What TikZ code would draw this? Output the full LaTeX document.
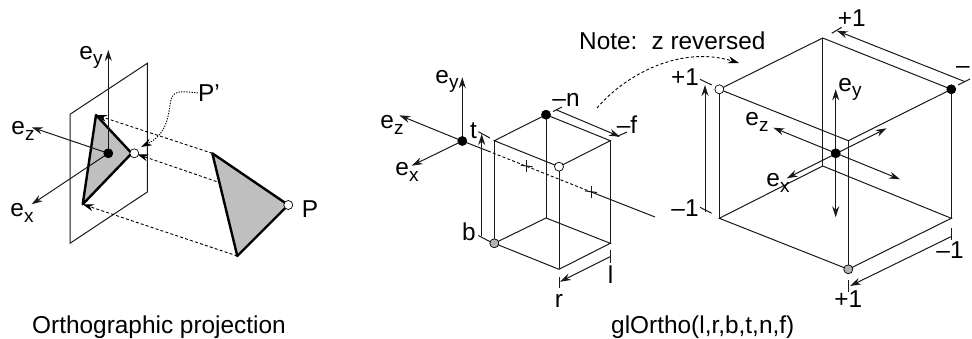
\documentclass[tikz,border=0pt]{standalone}
\usepackage{fontspec}
\setmainfont{Liberation Sans}
\usepackage{tikz}
\usetikzlibrary{arrows.meta, calc}
\newcommand{\axisname}[1]{e\raisebox{-0.4ex}{\fontsize{19}{19}\selectfont #1}}
\tikzset{
  thinline/.style={line width=1pt, color=black!90},
  axisarrow/.style={thinline, -{Stealth[length=11pt, width=7pt]}},
  botharrow/.style={thinline, {Stealth[length=11pt, width=7pt]}-{Stealth[length=11pt, width=7pt]}},
  crossline/.style={line width=0.9pt, dash pattern=on 3pt off 2.2pt},
  projline/.style={crossline, -{Stealth[length=11pt, width=7pt]}},
  noteline/.style={line width=0.9pt, dash pattern=on 1.3pt off 1.3pt, -{Stealth[length=11pt, width=7pt]}},
  facefill/.style={fill=black!25, draw=black, line width=2.4pt, line join=round},
  blackdot/.style={circle, draw=black, fill=black, line width=0.7pt, inner sep=0pt, minimum size=9pt},
  whitedot/.style={blackdot, fill=white},
  greydot/.style={blackdot, fill=black!30},
  labeltext/.style={font=\fontsize{24.4}{24.4}\selectfont, inner sep=0pt},
}
\begin{document}
\begin{tikzpicture}[x=1pt, y=-1pt]
  \useasboundingbox (0,0) rectangle (972,339);

  % Projection plane
  \coordinate (plane1) at (70,114.3);
  \coordinate (plane2) at (147.3,63.3);
  \coordinate (plane3) at (147.3,192);
  \coordinate (plane4) at (70,243.3);
  \draw[thinline] (plane1) -- (plane2) -- (plane3) -- (plane4) -- cycle;

  % Triangles
  \coordinate (small1) at (96,115);
  \coordinate (small2) at (131.7,153.3);
  \coordinate (small3) at (82.7,204.3);
  \coordinate (large1) at (212.3,153.3);
  \coordinate (large2) at (288.3,205);
  \coordinate (large3) at (237.3,256);
  \coordinate (hidden) at (216.5,181.5);
  \coordinate (pprime) at (134.3,153.3);
  \draw[facefill] (small1) -- (small2) -- (small3) -- cycle;
  \draw[facefill] (large1) -- (large2) -- (large3) -- cycle;

  % Projection lines
  \draw[projline] (large1) -- (small1);
  \draw[projline] (hidden) -- ($(pprime)+(3,1)$);
  \draw[projline] (large3) -- (small3);

  % Left axes
  \coordinate (orga) at (108.3,153.3);
  \coordinate (eya) at (108.3,50);
  \coordinate (eza) at (31.7,127.3);
  \coordinate (exa) at (31.7,204.3);
  \draw[axisarrow] (orga) -- (eya);
  \draw[axisarrow] (orga) -- (eza);
  \draw[axisarrow] (orga) -- (exa);
  \node[blackdot] (orgadot) at (orga) {};
  \node[whitedot] (pprimedot) at (pprime) {};
  \node[whitedot] (pdot) at (288.3,205) {};

  \node[labeltext] (eyalabel) at (91,57) {\axisname{y}};
  \node[labeltext] (ezalabel) at (23,131) {\axisname{z}};
  \node[labeltext] (exalabel) at (22,213) {\axisname{x}};
  \node[labeltext] (plabel) at (310,209) {P};
  \node[labeltext] (pplabel) at (209,93) {P'};
  \draw[noteline] (pplabel.west) .. controls (175,90) and (172,92) .. (170,105)
    .. controls (168,120) and (165,135) .. (141,147);

  % Frustum box
  \coordinate (ltop) at (494.3,140.7);
  \coordinate (btop) at (546,114.7);
  \coordinate (rtop) at (610.3,140.7);
  \coordinate (ftop) at (559,166.7);
  \coordinate (lbot) at (494.3,243.3);
  \coordinate (bbot) at (546,218);
  \coordinate (rbot) at (610.3,243.3);
  \coordinate (fbot) at (559,269.3);
  \draw[thinline] (ltop) -- (btop) -- (rtop) -- (ftop) -- cycle;
  \draw[thinline] (lbot) -- (bbot) -- (rbot) -- (fbot) -- cycle;
  \foreach \c in {l,b,r,f}
    \draw[thinline] (\c top) -- (\c bot);

  % Viewing axis through the box
  \coordinate (orgb) at (462.3,141);
  \coordinate (eyb) at (462.3,77.3);
  \coordinate (ezb) at (399.3,115.3);
  \coordinate (exb) at (411.7,165.7);
  \coordinate (axisin) at (488,151);
  \coordinate (axisout) at (590,191.5);
  \coordinate (axisend) at (655,217);
  \draw[axisarrow] (orgb) -- (eyb);
  \draw[axisarrow] (orgb) -- (ezb);
  \draw[axisarrow] (orgb) -- (exb);
  \draw[thinline] (orgb) -- (axisin);
  \draw[crossline] (axisin) -- (axisout);
  \draw[thinline] (axisout) -- (axisend);
  \foreach \px/\py in {526.7/166, 591/191.7} {
    \draw[thinline] (\px,\py) ++(0,-6) -- ++(0,12);
    \draw[thinline] (\px,\py) ++(-6,-0.8) -- ++(12,1.6);
  }
  \node[blackdot] (orgbdot) at (orgb) {};
  \node[blackdot] (btopdot) at (btop) {};
  \node[whitedot] (ftopdot) at (ftop) {};
  \node[greydot] (lbotdot) at (lbot) {};

  % Box dimensions
  \coordinate (dimb) at (481.7,236);
  \coordinate (dimt) at (481.7,134);
  \coordinate (dimn) at (556.7,110);
  \coordinate (dimf) at (620,136.7);
  \coordinate (diml) at (610,256.7);
  \coordinate (dimr) at (560,281.7);
  \draw[axisarrow] (dimb) -- (dimt);
  \draw[axisarrow] (dimn) -- (dimf);
  \draw[axisarrow] (diml) -- (dimr);
  \foreach \ax/\ay/\bx/\by in {478.3/131.7/490/138, 478.3/235.5/490/241.7,
      553/111.5/562/107, 617/136.5/627/132,
      610.3/250/610.3/263, 559/277/559/288}
    \draw[thinline] (\ax,\ay) -- (\bx,\by);

  \node[labeltext] (eyblabel) at (447,81) {\axisname{y}};
  \node[labeltext] (ezblabel) at (392,125) {\axisname{z}};
  \node[labeltext] (exblabel) at (407,172) {\axisname{x}};
  \node[labeltext] (tlabel) at (473.5,130.5) {t};
  \node[labeltext] (blabel) at (469,232) {b};
  \node[labeltext] (nlabel) at (566,100) {--n};
  \node[labeltext] (flabel) at (627,125) {--f};
  \node[labeltext] (llabel) at (610.7,275) {l};
  \node[labeltext] (rlabel) at (559,301) {r};

  % Note and its curve
  \node[labeltext, anchor=base west] (note) at (579,50) {Note:\hspace{5pt} z reversed};
  \coordinate (curvestart) at (597,108);
  \coordinate (curveend) at (739,63);
  \draw[crossline, -{Stealth[length=11pt, width=7pt]}] (curvestart)
    .. controls (625,75) and (680,45) .. (curveend);

  % Unit cube
  \coordinate (ctopl) at (719.3,89.3);
  \coordinate (ctopb) at (822.7,38);
  \coordinate (ctopr) at (951.3,89.3);
  \coordinate (ctopf) at (848.3,140.7);
  \coordinate (cbotl) at (719.3,218.3);
  \coordinate (cbotb) at (822.7,166);
  \coordinate (cbotr) at (951.3,218.3);
  \coordinate (cbotf) at (848.3,269.3);
  \draw[thinline] (ctopl) -- (ctopb) -- (ctopr) -- (ctopf) -- cycle;
  \draw[thinline] (cbotl) -- (cbotb) -- (cbotr) -- (cbotf) -- cycle;
  \foreach \c in {l,b,r,f}
    \draw[thinline] (ctop\c) -- (cbot\c);

  % Cube axes
  \coordinate (orgc) at (835.7,153.3);
  \coordinate (eyc) at (835.7,89.3);
  \coordinate (myc) at (835.7,217.3);
  \coordinate (ezc) at (773.3,127.7);
  \coordinate (mzc) at (900,179.3);
  \coordinate (exc) at (786.7,178.3);
  \coordinate (mxc) at (886.7,128.3);
  \draw[botharrow] (myc) -- (eyc);
  \draw[botharrow] (mzc) -- (ezc);
  \draw[botharrow] (mxc) -- (exc);
  \node[blackdot] (orgcdot) at (orgc) {};
  \node[whitedot] (ctopldot) at (ctopl) {};
  \node[blackdot] (ctoprdot) at (ctopr) {};
  \node[greydot] (cbotfdot) at (cbotf) {};

  % Cube dimensions
  \coordinate (dimcb) at (705,211.7);
  \coordinate (dimct) at (705,85);
  \coordinate (dimcr) at (965,81.7);
  \coordinate (dimcn) at (836.7,30.7);
  \coordinate (dimcl) at (951,236.7);
  \coordinate (dimcf) at (850,286);
  \draw[axisarrow] (dimcb) -- (dimct);
  \draw[axisarrow] (dimcr) -- (dimcn);
  \draw[axisarrow] (dimcl) -- (dimcf);
  \foreach \ax/\ay/\bx/\by in {700/79.3/711.7/85, 700/207.3/711.7/213.3,
      831.7/33.3/841.7/27.3, 958/85/970/79,
      951.3/228/951.3/240, 848.3/280/848.3/292}
    \draw[thinline] (\ax,\ay) -- (\bx,\by);

  \node[labeltext] (eyclabel) at (850,89) {\axisname{y}};
  \node[labeltext] (ezclabel) at (757,122) {\axisname{z}};
  \node[labeltext] (exclabel) at (778,183) {\axisname{x}};
  \node[labeltext] (ptlabel) at (685,76.7) {+1};
  \node[labeltext] (mblabel) at (685,208.3) {--1};
  \node[labeltext] (pnlabel) at (851.7,18) {+1};
  \node[labeltext, anchor=west] (mflabel) at (956,70) {--};
  \node[labeltext] (mrlabel) at (950,250) {--1};
  \node[labeltext] (prlabel) at (848.3,299) {+1};

  % Captions
  \node[labeltext, anchor=base west] (captiona) at (32,333) {Orthographic projection};
  \node[labeltext, anchor=base west] (captionb) at (611,333) {glOrtho(l,r,b,t,n,f)};
\end{tikzpicture}
\end{document}
